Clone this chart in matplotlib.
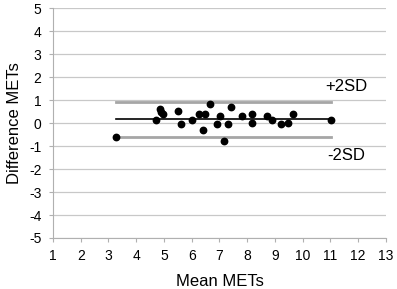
import matplotlib
matplotlib.use("Agg")
import matplotlib.pyplot as plt
import numpy as np

# Bland-Altman data
mean_mets = [3.28, 4.72, 4.87, 4.90, 4.98, 5.52, 5.62, 6.02, 6.27, 6.47, 6.42, 6.66, 6.93,
             7.02, 7.16, 7.32, 7.42, 7.82, 8.17, 8.17, 8.72, 8.91, 9.21, 9.47, 9.66, 11.01]
diff_mets = [-0.60, 0.12, 0.62, 0.46, 0.40, 0.52, -0.06, 0.12, 0.40, 0.40, -0.30, 0.81, -0.06,
             0.32, -0.78, -0.06, 0.71, 0.32, 0.40, 0.01, 0.32, 0.12, -0.06, 0.01, 0.40, 0.12]
bias = 0.16
upper = 0.92
lower = -0.60
line_x = [3.28, 11.01]

plt.rcParams['font.family'] = ['Liberation Sans', 'DejaVu Sans']
plt.rcParams['axes.unicode_minus'] = False

fig = plt.figure(figsize=(3.97, 2.89), dpi=100)
ax = fig.add_axes([0.1335, 0.1765, 0.8385, 0.7955])

# limits of agreement + bias
ax.plot(line_x, [upper, upper], color='#a6a6a6', lw=2.0, zorder=2)
ax.plot(line_x, [lower, lower], color='#a6a6a6', lw=2.0, zorder=2)
ax.plot(line_x, [bias, bias], color='black', lw=1.2, zorder=3)
ax.plot(mean_mets, diff_mets, 'o', color='black', ms=4.6, zorder=4)

ax.text(11.57, 1.6, '+2SD', ha='center', va='center', fontsize=12)
ax.text(11.57, -1.43, '-2SD', ha='center', va='center', fontsize=12)

ax.set_xlim(1, 13)
ax.set_ylim(-5, 5)
ax.set_xticks(np.arange(1, 14))
ax.set_yticks(np.arange(-5, 6))
ax.yaxis.grid(True, color='#c8c8c8', lw=0.9)
ax.set_axisbelow(True)

for s in ['top', 'right']:
    ax.spines[s].set_visible(False)
ax.spines['left'].set_color('#b0b0b0')
ax.spines['bottom'].set_color('#b0b0b0')
ax.tick_params(axis='both', colors='#b0b0b0', labelcolor='black', labelsize=10,
               length=3.2, width=0.8)
ax.tick_params(axis='x', pad=5)
ax.tick_params(axis='y', pad=5)

ax.set_xlabel('Mean METs', fontsize=12, labelpad=8)
ax.set_ylabel('Difference METs', fontsize=12, labelpad=5)

fig.savefig('out.png', dpi=100)
